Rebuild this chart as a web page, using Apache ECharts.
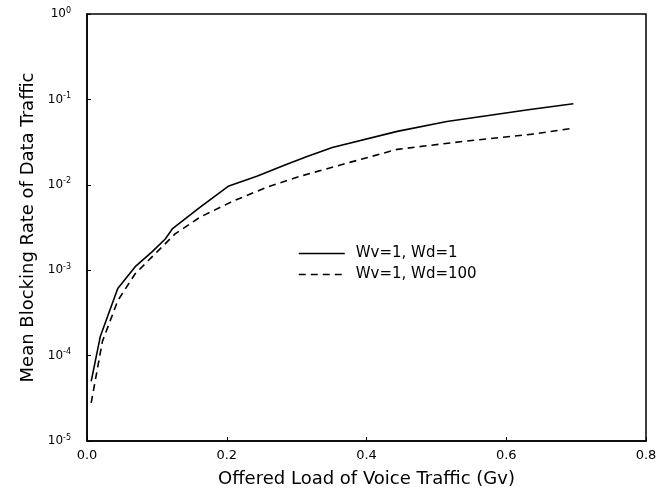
<!DOCTYPE html>
<html><head><meta charset="utf-8">
<script src="https://cdn.jsdelivr.net/npm/echarts@6/dist/echarts.min.js"></script>
<style>html,body{margin:0;padding:0;background:#fff}#c{width:670px;height:493px}</style>
</head><body><div id="c"></div>
<script>
const xTicks = [0.0, 0.2, 0.4, 0.6, 0.8];
const yExps = [0, -1, -2, -3, -4, -5];
const seriesNames = ['Wv=1, Wd=1', 'Wv=1, Wd=100'];
const solidX = [0.006, 0.019, 0.044, 0.069, 0.093, 0.112, 0.122, 0.162, 0.202, 0.243, 0.286, 0.315, 0.351, 0.444, 0.515, 0.634, 0.696];
const solidY = [5.0e-5, 1.67e-4, 6.1e-4, 1.10e-3, 1.64e-3, 2.32e-3, 3.04e-3, 5.48e-3, 9.6e-3, 1.26e-2, 1.74e-2, 2.15e-2, 2.74e-2, 4.22e-2, 5.51e-2, 7.6e-2, 8.9e-2];
const dashX = [0.006, 0.022, 0.044, 0.069, 0.093, 0.126, 0.162, 0.209, 0.258, 0.305, 0.376, 0.444, 0.538, 0.634, 0.694];
const dashY = [2.8e-5, 1.46e-4, 4.4e-4, 9.1e-4, 1.43e-3, 2.66e-3, 4.19e-3, 6.44e-3, 9.4e-3, 1.26e-2, 1.83e-2, 2.6e-2, 3.22e-2, 3.89e-2, 4.57e-2];

const font = 'DejaVu Sans, Liberation Sans, sans-serif';
const chart = echarts.init(document.getElementById('c'));
chart.setOption({
  animation: false,
  backgroundColor: '#fff',
  grid: { left: 87, right: 24, top: 14, bottom: 50, show: true, borderColor: '#000', borderWidth: 1.5 },
  legend: {
    left: 293, top: 241, orient: 'vertical', itemGap: 6, itemWidth: 46, itemHeight: 16,
    itemStyle: { opacity: 0 },
    lineStyle: { width: 1.5 },
    textStyle: { fontFamily: font, fontSize: 15, color: '#000', padding: [0, 0, 0, 6] },
    data: seriesNames
  },
  xAxis: {
    type: 'value', min: 0, max: 0.8, interval: 0.2,
    name: 'Offered Load of Voice Traffic (Gv)', nameLocation: 'middle', nameGap: 29,
    nameTextStyle: { fontFamily: font, fontSize: 18, color: '#000' },
    axisLine: { show: true, lineStyle: { color: '#000', width: 1.5 } },
    axisTick: { show: true, inside: true, length: 4, lineStyle: { color: '#000' } },
    splitLine: { show: false },
    axisLabel: { fontFamily: font, fontSize: 13, color: '#000', margin: 8,
      formatter: v => { const t = xTicks.find(a => Math.abs(a - v) < 1e-9); return (t === undefined ? v : t).toFixed(1); } }
  },
  yAxis: {
    type: 'log', logBase: 10, min: 1e-5, max: 1,
    name: 'Mean Blocking Rate of Data Traffic', nameLocation: 'middle', nameGap: 41,
    nameTextStyle: { fontFamily: font, fontSize: 18, color: '#000' },
    axisLine: { show: true, lineStyle: { color: '#000', width: 1.5 } },
    axisTick: { show: true, inside: true, length: 4, lineStyle: { color: '#000' } },
    splitLine: { show: false },
    axisLabel: { fontFamily: font, color: '#000', margin: 16,
      formatter: v => { const e = Math.round(Math.log10(v)); return yExps.includes(e) ? '{b|10}{s|' + e + '}' : ''; },
      rich: { b: { fontFamily: font, fontSize: 12, color: '#000' }, s: { fontFamily: font, fontSize: 8, color: '#000', verticalAlign: 'top', padding: [0, 0, 7, 0] } }
    }
  },
  series: [
    { name: seriesNames[0], type: 'line', symbol: 'none', smooth: false,
      data: solidX.map((x, i) => [x, solidY[i]]),
      lineStyle: { color: '#000', width: 1.6, type: 'solid' }, itemStyle: { color: '#000' } },
    { name: seriesNames[1], type: 'line', symbol: 'none', smooth: false,
      data: dashX.map((x, i) => [x, dashY[i]]),
      lineStyle: { color: '#000', width: 1.6, type: [7, 5] }, itemStyle: { color: '#000' } }
  ]
});
</script></body></html>
